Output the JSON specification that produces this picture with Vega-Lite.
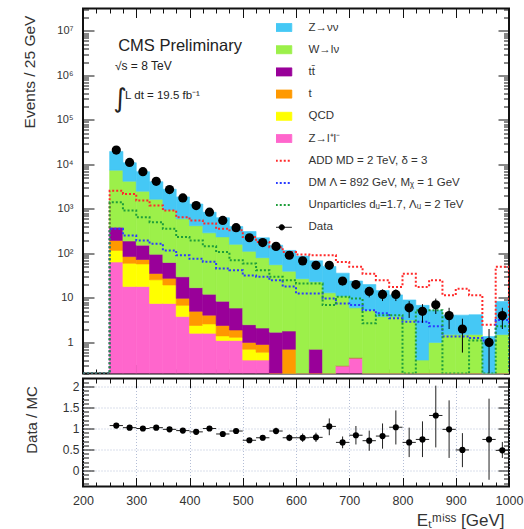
{
  "$schema": "https://vega.github.io/schema/vega-lite/v6.json",
  "padding": {"left": 20, "top": 2.5, "right": 0, "bottom": 0},
  "config": {
    "view": {"stroke": "#111", "strokeWidth": 2},
    "font": "Liberation Sans",
    "axis": {"labelFont": "Liberation Sans", "titleFont": "Liberation Sans", "labelColor": "#333", "titleColor": "#333", "titleFontWeight": "normal", "domain": false, "tickColor": "#111", "tickWidth": 1, "grid": false, "labelFlush": false, "labelOverlap": false}
  },
  "datasets": {
    "comp": [
      {"key": "zll", "label": "Z→l⁺l⁻", "order": 1},
      {"key": "qcd", "label": "QCD", "order": 2},
      {"key": "t", "label": "t", "order": 3},
      {"key": "tt", "label": "tt̄", "order": 4},
      {"key": "wln", "label": "W→lν", "order": 5},
      {"key": "znn", "label": "Z→νν", "order": 6},
      {"key": "add", "label": "ADD MD = 2 TeV, δ = 3", "order": 7},
      {"key": "dm", "label": "DM Λ = 892 GeV, Mᵪ = 1 GeV", "order": 8},
      {"key": "unp", "label": "Unparticles dᵤ=1.7, Λᵤ = 2 TeV", "order": 9}
    ],
    "bkg": [
      {"lo": 250, "hi": 275, "znn": 12150, "wln": 7060, "tt": 194, "t": 79, "qcd": 53, "zll": 64},
      {"lo": 275, "hi": 300, "znn": 6700, "wln": 4010, "tt": 105, "t": 25, "qcd": 42, "zll": 18},
      {"lo": 300, "hi": 325, "znn": 4370, "wln": 2347, "tt": 80, "t": 15, "qcd": 40, "zll": 18},
      {"lo": 325, "hi": 350, "znn": 2440, "wln": 1555, "tt": 60, "t": 10, "qcd": 18, "zll": 7.5},
      {"lo": 350, "hi": 375, "znn": 1830, "wln": 888, "tt": 35, "t": 8, "qcd": 12, "zll": 7.5},
      {"lo": 375, "hi": 400, "znn": 1260, "wln": 570, "tt": 20, "t": 3, "qcd": 3, "zll": 3.8},
      {"lo": 400, "hi": 425, "znn": 870, "wln": 403, "tt": 12, "t": 2.6, "qcd": 0.8, "zll": 1.6},
      {"lo": 425, "hi": 450, "znn": 554, "wln": 278, "tt": 8, "t": 1.5, "qcd": 1.0, "zll": 1.6},
      {"lo": 450, "hi": 475, "znn": 397, "wln": 227, "tt": 6, "t": 1.0, "qcd": 0.3, "zll": 1.1},
      {"lo": 475, "hi": 500, "znn": 242, "wln": 154, "tt": 4, "t": 0.6, "qcd": 0.2, "zll": 1.1},
      {"lo": 500, "hi": 525, "znn": 200, "wln": 109, "tt": 1.5, "t": 0.3, "qcd": 0.3, "zll": 0.4},
      {"lo": 525, "hi": 550, "znn": 144, "wln": 78, "tt": 1.2, "t": 0.3, "qcd": 0.2, "zll": 0.4},
      {"lo": 550, "hi": 575, "znn": 97, "wln": 54, "tt": 1.7, "t": 0, "qcd": 0, "zll": 0},
      {"lo": 575, "hi": 600, "znn": 77, "wln": 38, "tt": 1.1, "t": 0.7, "qcd": 0, "zll": 0},
      {"lo": 600, "hi": 625, "znn": 60, "wln": 27, "tt": 0, "t": 0, "qcd": 0, "zll": 0},
      {"lo": 625, "hi": 650, "znn": 45, "wln": 22.3, "tt": 0.7, "t": 0, "qcd": 0, "zll": 0},
      {"lo": 650, "hi": 675, "znn": 38, "wln": 13, "tt": 0, "t": 0, "qcd": 0, "zll": 0},
      {"lo": 675, "hi": 700, "znn": 25, "wln": 10.7, "tt": 0, "t": 0, "qcd": 0, "zll": 0.3},
      {"lo": 700, "hi": 725, "znn": 18, "wln": 5.55, "tt": 0, "t": 0, "qcd": 0, "zll": 0.45},
      {"lo": 725, "hi": 750, "znn": 14.7, "wln": 5.3, "tt": 0, "t": 0, "qcd": 0, "zll": 0},
      {"lo": 750, "hi": 775, "znn": 10.8, "wln": 3.8, "tt": 0, "t": 0, "qcd": 0, "zll": 0},
      {"lo": 775, "hi": 800, "znn": 7.9, "wln": 3.8, "tt": 0, "t": 0, "qcd": 0, "zll": 0},
      {"lo": 800, "hi": 825, "znn": 5.8, "wln": 3.2, "tt": 0, "t": 0, "qcd": 0, "zll": 0},
      {"lo": 825, "hi": 850, "znn": 6.4, "wln": 0.4, "tt": 0, "t": 0, "qcd": 0, "zll": 0},
      {"lo": 850, "hi": 875, "znn": 4.3, "wln": 1.0, "tt": 0, "t": 0, "qcd": 0, "zll": 0},
      {"lo": 875, "hi": 900, "znn": 2.6, "wln": 1.5, "tt": 0, "t": 0, "qcd": 0, "zll": 0},
      {"lo": 900, "hi": 925, "znn": 2.6, "wln": 1.5, "tt": 0, "t": 0, "qcd": 0, "zll": 0},
      {"lo": 925, "hi": 950, "znn": 2.7, "wln": 1.5, "tt": 0, "t": 0, "qcd": 0, "zll": 0},
      {"lo": 950, "hi": 975, "znn": 1.35, "wln": 0, "tt": 0, "t": 0, "qcd": 0, "zll": 0},
      {"lo": 975, "hi": 1000, "znn": 6.8, "wln": 1.5, "tt": 0, "t": 0, "qcd": 0, "zll": 0}
    ],
    "sig": [
      {"x": 200, "add": 0, "dm": 0, "unp": 0},
      {"x": 250, "add": 2570, "dm": 357, "unp": 1410},
      {"x": 275, "add": 2180, "dm": 253, "unp": 920},
      {"x": 300, "add": 1540, "dm": 196, "unp": 650},
      {"x": 325, "add": 1200, "dm": 166, "unp": 505},
      {"x": 350, "add": 920, "dm": 117, "unp": 357},
      {"x": 375, "add": 650, "dm": 91, "unp": 233},
      {"x": 400, "add": 550, "dm": 76, "unp": 196},
      {"x": 425, "add": 470, "dm": 65, "unp": 145},
      {"x": 450, "add": 357, "dm": 46, "unp": 107},
      {"x": 475, "add": 330, "dm": 42, "unp": 70},
      {"x": 500, "add": 233, "dm": 32, "unp": 59},
      {"x": 525, "add": 180, "dm": 30, "unp": 42},
      {"x": 550, "add": 138, "dm": 25, "unp": 30},
      {"x": 575, "add": 107, "dm": 18, "unp": 25},
      {"x": 600, "add": 95, "dm": 12.6, "unp": 21},
      {"x": 625, "add": 91, "dm": 12.6, "unp": 21},
      {"x": 650, "add": 91, "dm": 9.7, "unp": 6.9},
      {"x": 675, "add": 64, "dm": 7.5, "unp": 10.6},
      {"x": 700, "add": 50, "dm": 6.9, "unp": 9.7},
      {"x": 725, "add": 35, "dm": 5.3, "unp": 2.7},
      {"x": 750, "add": 25, "dm": 4.5, "unp": 4.1},
      {"x": 775, "add": 17.7, "dm": 3.5, "unp": 4.1},
      {"x": 800, "add": 35, "dm": 2.9, "unp": 0},
      {"x": 825, "add": 17.7, "dm": 2.9, "unp": 5.3},
      {"x": 850, "add": 25, "dm": 2.3, "unp": 5.3},
      {"x": 875, "add": 11.5, "dm": 1.35, "unp": 0},
      {"x": 900, "add": 16, "dm": 1.35, "unp": 0},
      {"x": 925, "add": 11.5, "dm": 1.25, "unp": 1.1},
      {"x": 950, "add": 2.5, "dm": 1.1, "unp": 0},
      {"x": 975, "add": 50, "dm": 3.2, "unp": 2.3},
      {"x": 1000, "add": 0, "dm": 0, "unp": 0}
    ],
    "obs": [
      {"lo": 250, "hi": 275, "c": 262.5, "n": 21000, "elo": 20855, "ehi": 21145, "r": 1.07, "rlo": 1.06, "rhi": 1.08},
      {"lo": 275, "hi": 300, "c": 287.5, "n": 11090, "elo": 10985, "ehi": 11195, "r": 1.02, "rlo": 1.01, "rhi": 1.03},
      {"lo": 300, "hi": 325, "c": 312.5, "n": 6870, "elo": 6787, "ehi": 6953, "r": 1.0, "rlo": 0.985, "rhi": 1.015},
      {"lo": 325, "hi": 350, "c": 337.5, "n": 4170, "elo": 4105, "ehi": 4235, "r": 1.02, "rlo": 1.0, "rhi": 1.04},
      {"lo": 350, "hi": 375, "c": 362.5, "n": 2720, "elo": 2668, "ehi": 2772, "r": 0.98, "rlo": 0.96, "rhi": 1.0},
      {"lo": 375, "hi": 400, "c": 387.5, "n": 1770, "elo": 1728, "ehi": 1812, "r": 0.95, "rlo": 0.93, "rhi": 0.97},
      {"lo": 400, "hi": 425, "c": 412.5, "n": 1190, "elo": 1156, "ehi": 1224, "r": 0.92, "rlo": 0.89, "rhi": 0.95},
      {"lo": 425, "hi": 450, "c": 437.5, "n": 844, "elo": 815, "ehi": 873, "r": 1.0, "rlo": 0.96, "rhi": 1.04},
      {"lo": 450, "hi": 475, "c": 462.5, "n": 550, "elo": 527, "ehi": 573, "r": 0.87, "rlo": 0.83, "rhi": 0.91},
      {"lo": 475, "hi": 500, "c": 487.5, "n": 378, "elo": 359, "ehi": 397, "r": 0.94, "rlo": 0.89, "rhi": 0.99},
      {"lo": 500, "hi": 525, "c": 512.5, "n": 225, "elo": 210, "ehi": 240, "r": 0.72, "rlo": 0.67, "rhi": 0.77},
      {"lo": 525, "hi": 550, "c": 537.5, "n": 175, "elo": 162, "ehi": 188, "r": 0.78, "rlo": 0.72, "rhi": 0.84},
      {"lo": 550, "hi": 575, "c": 562.5, "n": 144, "elo": 132, "ehi": 156, "r": 0.94, "rlo": 0.86, "rhi": 1.02},
      {"lo": 575, "hi": 600, "c": 587.5, "n": 91, "elo": 81.5, "ehi": 100.5, "r": 0.78, "rlo": 0.7, "rhi": 0.86},
      {"lo": 600, "hi": 625, "c": 612.5, "n": 68, "elo": 59.8, "ehi": 76.2, "r": 0.78, "rlo": 0.68, "rhi": 0.88},
      {"lo": 625, "hi": 650, "c": 637.5, "n": 54, "elo": 46.7, "ehi": 61.3, "r": 0.79, "rlo": 0.68, "rhi": 0.9},
      {"lo": 650, "hi": 675, "c": 662.5, "n": 54, "elo": 46.7, "ehi": 61.3, "r": 1.05, "rlo": 0.84, "rhi": 1.24},
      {"lo": 675, "hi": 700, "c": 687.5, "n": 24, "elo": 19.1, "ehi": 28.9, "r": 0.67, "rlo": 0.53, "rhi": 0.81},
      {"lo": 700, "hi": 725, "c": 712.5, "n": 20, "elo": 15.5, "ehi": 24.5, "r": 0.84, "rlo": 0.62, "rhi": 1.06},
      {"lo": 725, "hi": 750, "c": 737.5, "n": 14, "elo": 10.3, "ehi": 17.7, "r": 0.71, "rlo": 0.47, "rhi": 0.95},
      {"lo": 750, "hi": 775, "c": 762.5, "n": 12, "elo": 8.5, "ehi": 15.5, "r": 0.82, "rlo": 0.52, "rhi": 1.12},
      {"lo": 775, "hi": 800, "c": 787.5, "n": 12, "elo": 8.5, "ehi": 15.5, "r": 1.03, "rlo": 0.62, "rhi": 1.43},
      {"lo": 800, "hi": 825, "c": 812.5, "n": 6, "elo": 3.55, "ehi": 8.45, "r": 0.67, "rlo": 0.32, "rhi": 1.02},
      {"lo": 825, "hi": 850, "c": 837.5, "n": 5, "elo": 2.76, "ehi": 7.24, "r": 0.74, "rlo": 0.32, "rhi": 1.17},
      {"lo": 850, "hi": 875, "c": 862.5, "n": 7, "elo": 4.35, "ehi": 9.65, "r": 1.31, "rlo": 0.55, "rhi": 2.02},
      {"lo": 875, "hi": 900, "c": 887.5, "n": 4, "elo": 2, "ehi": 6, "r": 0.98, "rlo": 0.3, "rhi": 1.67},
      {"lo": 900, "hi": 925, "c": 912.5, "n": 2, "elo": 0.59, "ehi": 3.41, "r": 0.49, "rlo": 0.08, "rhi": 0.89},
      {"lo": 950, "hi": 975, "c": 962.5, "n": 1, "elo": 0.01, "ehi": 2, "r": 0.74, "rlo": -0.22, "rhi": 1.71},
      {"lo": 975, "hi": 1000, "c": 987.5, "n": 4, "elo": 2, "ehi": 6, "r": 0.48, "rlo": 0.3, "rhi": 0.68}
    ]
  },
  "spacing": 5,
  "bounds": "flush",
  "vconcat": [
    {
      "width": 426,
      "height": 365,
      "layer": [
        {
          "data": {"name": "bkg"},
          "transform": [
            {"fold": ["zll", "qcd", "t", "tt", "wln", "znn"], "as": ["key", "n"]},
            {"lookup": "key", "from": {"data": {"name": "comp"}, "key": "key", "fields": ["label", "order"]}},
            {"stack": "n", "groupby": ["lo"], "sort": [{"field": "order", "order": "ascending"}], "as": ["s0", "s1"]}
          ],
          "mark": {"type": "bar", "clip": true, "strokeWidth": 0.6},
          "encoding": {
            "x": {"field": "lo", "type": "quantitative", "scale": {"domain": [200, 1000], "nice": false, "zero": false},
              "axis": {"orient": "bottom", "values": [200,225,250,275,300,325,350,375,400,425,450,475,500,525,550,575,600,625,650,675,700,725,750,775,800,825,850,875,900,925,950,975,1000], "labels": false, "title": null,
                "tickSize": {"condition": {"test": "datum.value % 100 == 0", "value": -9}, "value": -4.5}}},
            "x2": {"field": "hi"},
            "y": {"field": "s1", "type": "quantitative", "scale": {"type": "log", "domain": [0.2, 32000000], "clamp": true, "nice": false},
              "axis": {"orient": "left", "values": [0.2,0.3,0.4,0.5,0.6,0.7,0.8,0.9,1,2,3,4,5,6,7,8,9,10,20,30,40,50,60,70,80,90,100,200,300,400,500,600,700,800,900,1000,2000,3000,4000,5000,6000,7000,8000,9000,10000,20000,30000,40000,50000,60000,70000,80000,90000,100000,200000,300000,400000,500000,600000,700000,800000,900000,1000000,2000000,3000000,4000000,5000000,6000000,7000000,8000000,9000000,10000000,20000000,30000000],
                "tickSize": {"condition": {"test": "abs(log(datum.value)/LN10 - round(log(datum.value)/LN10)) < 0.001", "value": -11}, "value": -5.5},
                "labelExpr": "datum.value == 1 ? '1' : datum.value == 10 ? '10' : datum.value == 100 ? '10²' : datum.value == 1000 ? '10³' : datum.value == 10000 ? '10⁴' : datum.value == 100000 ? '10⁵' : datum.value == 1000000 ? '10⁶' : datum.value == 10000000 ? '10⁷' : ''",
                "labelPadding": 21, "labelFontSize": 11,
                "title": "Events / 25 GeV", "titleFontSize": 15.5, "titleX": -54, "titleY": 63, "titleAlign": "center", "titleBaseline": "middle", "titleAngle": -90}},
            "y2": {"field": "s0"},
            "color": {"field": "label", "type": "nominal",
              "scale": {"domain": ["Z→νν", "W→lν", "tt̄", "t", "QCD", "Z→l⁺l⁻", "ADD MD = 2 TeV, δ = 3", "DM Λ = 892 GeV, Mᵪ = 1 GeV", "Unparticles dᵤ=1.7, Λᵤ = 2 TeV", "Data"],
                "range": ["#45c8f5", "#9cf04a", "#990099", "#ff9900", "#ffff00", "#ff66cc", "#ff2a2a", "#2a3cff", "#1e9e3a", "#000000"]},
              "legend": {"orient": "none", "legendX": 193, "legendY": 11, "title": null, "padding": 0,
                "symbolSize": 256, "clipHeight": 16, "rowPadding": 6.2, "labelOffset": 21,
                "labelFont": "Liberation Sans", "labelFontSize": 11.5, "labelColor": "#333", "labelLimit": 300,
                "encode": {"symbols": {"update": {
                  "shape": {"signal": "datum.index >= 6 && datum.index <= 8 ? 'M-1.25,0H1.25' : datum.index == 9 ? 'M-1.25,0H1.25M0.33,0A0.33,0.33,0,1,1,-0.33,0A0.33,0.33,0,1,1,0.33,0Z' : 'M-1.25,-0.5H1.25V0.5H-1.25Z'"},
                  "fill": {"signal": "datum.index >= 6 && datum.index <= 8 ? 'transparent' : scale('color', datum.value)"},
                  "stroke": {"signal": "datum.index >= 6 && datum.index <= 8 ? scale('color', datum.value) : datum.index == 9 ? '#7070d0' : 'rgba(0,0,0,0.3)'"},
                  "strokeDash": {"signal": "datum.index >= 6 && datum.index <= 8 ? [2,2] : [1,0]"},
                  "strokeWidth": {"signal": "datum.index >= 6 && datum.index <= 8 ? 2 : 1"},
                  "opacity": {"value": 1}
                }}}}},
            "stroke": {"field": "label", "type": "nominal", "legend": null,
              "scale": {"domain": ["Z→νν", "W→lν", "tt̄", "t", "QCD", "Z→l⁺l⁻"], "range": ["#45c8f5", "#9cf04a", "#990099", "#ff9900", "#ffff00", "#ff66cc"]}}
          }
        },
        {
          "data": {"name": "sig"},
          "transform": [
            {"fold": ["add", "dm", "unp"], "as": ["key", "v"]},
            {"lookup": "key", "from": {"data": {"name": "comp"}, "key": "key", "fields": ["label"]}}
          ],
          "mark": {"type": "line", "interpolate": "step-after", "strokeDash": [2, 2], "strokeWidth": 2, "clip": true},
          "encoding": {
            "x": {"field": "x", "type": "quantitative",
              "axis": {"orient": "top", "values": [200,225,250,275,300,325,350,375,400,425,450,475,500,525,550,575,600,625,650,675,700,725,750,775,800,825,850,875,900,925,950,975,1000], "labels": false, "title": null,
                "tickSize": {"condition": {"test": "datum.value % 100 == 0", "value": -9}, "value": -4.5}}},
            "y": {"field": "v", "type": "quantitative",
              "axis": {"orient": "right", "values": [0.2,0.3,0.4,0.5,0.6,0.7,0.8,0.9,1,2,3,4,5,6,7,8,9,10,20,30,40,50,60,70,80,90,100,200,300,400,500,600,700,800,900,1000,2000,3000,4000,5000,6000,7000,8000,9000,10000,20000,30000,40000,50000,60000,70000,80000,90000,100000,200000,300000,400000,500000,600000,700000,800000,900000,1000000,2000000,3000000,4000000,5000000,6000000,7000000,8000000,9000000,10000000,20000000,30000000],
                "tickSize": {"condition": {"test": "abs(log(datum.value)/LN10 - round(log(datum.value)/LN10)) < 0.001", "value": -11}, "value": -5.5},
                "labels": false, "title": null}},
            "color": {"field": "label", "type": "nominal"}
          }
        },
        {
          "data": {"name": "obs"},
          "mark": {"type": "rule", "color": "#000", "strokeWidth": 1, "clip": true},
          "encoding": {
            "x": {"field": "c", "type": "quantitative", "axis": null},
            "y": {"field": "elo", "type": "quantitative", "axis": null},
            "y2": {"field": "ehi"}
          }
        },
        {
          "data": {"name": "obs"},
          "mark": {"type": "point", "shape": "circle", "filled": true, "size": 85, "opacity": 1, "clip": true},
          "encoding": {
            "x": {"field": "c", "type": "quantitative", "axis": null},
            "y": {"field": "n", "type": "quantitative", "axis": null},
            "color": {"datum": "Data"}
          }
        },
        {
          "data": {"values": [{}]},
          "mark": {"type": "text", "align": "left", "baseline": "middle", "fontSize": 16.5, "font": "Liberation Sans", "color": "#222"},
          "encoding": {
            "x": {"datum": 266, "type": "quantitative", "axis": null},
            "y": {"datum": 4500000, "type": "quantitative", "axis": null},
            "text": {"value": "CMS Preliminary"}
          }
        },
        {
          "data": {"values": [{}]},
          "mark": {"type": "text", "align": "left", "baseline": "middle", "fontSize": 12, "font": "Liberation Sans", "color": "#222"},
          "encoding": {
            "x": {"datum": 260, "type": "quantitative", "axis": null},
            "y": {"datum": 1600000, "type": "quantitative", "axis": null},
            "text": {"value": "√s = 8 TeV"}
          }
        },
        {
          "data": {"values": [{}]},
          "mark": {"type": "text", "align": "left", "baseline": "middle", "fontSize": 26, "font": "DejaVu Sans", "color": "#222"},
          "encoding": {
            "x": {"datum": 257, "type": "quantitative", "axis": null},
            "y": {"datum": 300000, "type": "quantitative", "axis": null},
            "text": {"value": "∫"}
          }
        },
        {
          "data": {"values": [{}]},
          "mark": {"type": "text", "align": "left", "baseline": "middle", "fontSize": 11.5, "font": "Liberation Sans", "color": "#222"},
          "encoding": {
            "x": {"datum": 279, "type": "quantitative", "axis": null},
            "y": {"datum": 340000, "type": "quantitative", "axis": null},
            "text": {"value": "L dt = 19.5 fb⁻¹"}
          }
        }
      ],
      "resolve": {"axis": {"x": "independent", "y": "independent"}}
    },
    {
      "width": 426,
      "height": 108,
      "data": {"name": "obs"},
      "layer": [
        {
          "mark": {"type": "rule", "color": "#222", "strokeWidth": 1, "clip": true},
          "encoding": {
            "x": {"field": "c", "type": "quantitative", "scale": {"domain": [200, 1000], "nice": false, "zero": false},
              "axis": {"orient": "bottom", "values": [200,225,250,275,300,325,350,375,400,425,450,475,500,525,550,575,600,625,650,675,700,725,750,775,800,825,850,875,900,925,950,975,1000],
                "tickSize": {"condition": {"test": "datum.value % 100 == 0", "value": -9}, "value": -4.5},
                "labelExpr": "datum.value % 100 == 0 ? toString(datum.value) : ''", "labelPadding": 17, "labelFontSize": 12.5,
                "grid": true, "gridColor": "#b4bed6", "gridDash": [1, 2], "gridWidth": 1,
                "gridOpacity": {"condition": {"test": "datum.value % 100 == 0", "value": 1}, "value": 0},
                "title": "Eₜᵐⁱˢˢ [GeV]", "titleFontSize": 17, "titleX": 421, "titleY": 34, "titleAlign": "right", "titleBaseline": "middle"}},
            "y": {"field": "rlo", "type": "quantitative", "scale": {"domain": [-0.38, 2.19], "nice": false, "zero": false},
              "axis": {"orient": "left", "values": [-0.3,-0.2,-0.1,0,0.1,0.2,0.3,0.4,0.5,0.6,0.7,0.8,0.9,1,1.1,1.2,1.3,1.4,1.5,1.6,1.7,1.8,1.9,2,2.1],
                "tickSize": {"condition": {"test": "abs(datum.value*2 - round(datum.value*2)) < 0.001", "value": -11}, "value": -5.5},
                "labelExpr": "abs(datum.value*2 - round(datum.value*2)) < 0.001 ? toString(round(datum.value*2)/2) : ''", "labelPadding": 15, "labelFontSize": 12,
                "grid": true, "gridColor": "#b4bed6", "gridDash": [1, 2], "gridWidth": 1,
                "gridOpacity": {"condition": {"test": "abs(datum.value*2 - round(datum.value*2)) < 0.001", "value": 1}, "value": 0},
                "title": "Data / MC", "titleFontSize": 15, "titleX": -52, "titleY": 41, "titleAlign": "center", "titleBaseline": "middle", "titleAngle": -90}},
            "y2": {"field": "rhi"}
          }
        },
        {
          "mark": {"type": "rule", "color": "#222", "strokeWidth": 1, "clip": true},
          "encoding": {
            "x": {"field": "lo", "type": "quantitative",
              "axis": {"orient": "top", "values": [200,225,250,275,300,325,350,375,400,425,450,475,500,525,550,575,600,625,650,675,700,725,750,775,800,825,850,875,900,925,950,975,1000], "labels": false, "title": null,
                "tickSize": {"condition": {"test": "datum.value % 100 == 0", "value": -9}, "value": -4.5}}},
            "x2": {"field": "hi"},
            "y": {"field": "r", "type": "quantitative",
              "axis": {"orient": "right", "values": [-0.3,-0.2,-0.1,0,0.1,0.2,0.3,0.4,0.5,0.6,0.7,0.8,0.9,1,1.1,1.2,1.3,1.4,1.5,1.6,1.7,1.8,1.9,2,2.1], "labels": false, "title": null,
                "tickSize": {"condition": {"test": "abs(datum.value*2 - round(datum.value*2)) < 0.001", "value": -11}, "value": -5.5}}}
          }
        },
        {
          "mark": {"type": "point", "shape": "circle", "filled": true, "size": 38, "opacity": 1, "color": "#000", "clip": true},
          "encoding": {
            "x": {"field": "c", "type": "quantitative", "axis": null},
            "y": {"field": "r", "type": "quantitative", "axis": null}
          }
        }
      ],
      "resolve": {"axis": {"x": "independent", "y": "independent"}}
    }
  ]
}
